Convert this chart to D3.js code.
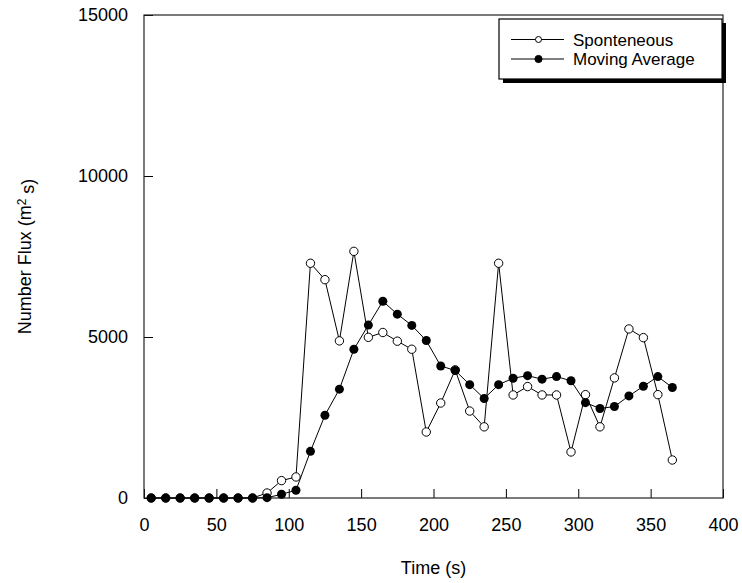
<!DOCTYPE html>
<html>
<head>
<meta charset="utf-8">
<script src="https://cdn.jsdelivr.net/npm/d3@7"></script>
<style>
  body { margin: 0; background: #fff; }
  svg { display: block; font-family: "Liberation Sans", Arial, sans-serif; }
</style>
</head>
<body>
<div id="chart"></div>
<script>
// time (s) of each sample
const times = [5, 15, 25, 35, 45, 55, 65, 75, 85, 95, 105, 115, 125, 135, 145, 155, 165, 175, 185,
  195, 205, 215, 225, 235, 245, 255, 265, 275, 285, 295, 305, 315, 325, 335, 345, 355, 365];

const sponteneous = [0, 0, 0, 0, 0, 0, 0, 0, 155, 540, 653, 7290, 6780, 4880, 7660, 4990, 5140, 4870, 4620,
  2050, 2950, 3980, 2700, 2210, 7290, 3200, 3460, 3200, 3200, 1430, 3210, 2210, 3730, 5250, 4980, 3210, 1180];

const movingAverage = [0, 0, 0, 0, 0, 0, 0, 0, 10, 115, 240, 1450, 2570, 3380, 4620, 5370, 6110, 5710, 5360,
  4890, 4100, 3960, 3520, 3090, 3520, 3720, 3800, 3690, 3770, 3640, 2960, 2780, 2840, 3170, 3470, 3770, 3430];

const xTicks = [0, 50, 100, 150, 200, 250, 300, 350, 400];
const yTicks = [0, 5000, 10000, 15000];

const seriesNames = ['Sponteneous', 'Moving Average'];

const config = {
  width: 742,
  height: 583,
  margin: [15, 19, 85, 144], // top, right, bottom, left
  fontSize: 18,
  legendFontSize: 17,
  radius: 4.2
};
config.chartWidth = config.width - config.margin[1] - config.margin[3];
config.chartHeight = config.height - config.margin[0] - config.margin[2];

const svg = d3.select('#chart')
  .append('svg')
  .attr('width', config.width)
  .attr('height', config.height);

const scaleX = d3.scaleLinear()
  .domain([0, 400])
  .range([0, config.chartWidth]);

const scaleY = d3.scaleLinear()
  .domain([0, 15000])
  .range([config.chartHeight, 0]);

const chart = svg.append('g')
  .attr('transform', `translate(${config.margin[3]}, ${config.margin[0]})`);

// axes with ticks pointing inward
const xAxis = d3.axisBottom(scaleX)
  .tickValues(xTicks)
  .tickSize(-9)
  .tickPadding(20)
  .tickFormat(d3.format('d'));

const yAxis = d3.axisLeft(scaleY)
  .tickValues(yTicks)
  .tickSize(-9)
  .tickPadding(16)
  .tickFormat(d3.format('d'));

const gx = chart.append('g')
  .attr('transform', `translate(0, ${config.chartHeight})`)
  .call(xAxis);
const gy = chart.append('g').call(yAxis);

[gx, gy].forEach(g => {
  g.select('.domain').remove();
  g.selectAll('.tick line').attr('stroke', '#000');
  g.selectAll('.tick text')
    .attr('fill', '#000')
    .style('font-size', config.fontSize + 'px')
    .style('font-family', '"Liberation Sans", Arial, sans-serif');
});
gx.selectAll('.tick text').attr('dy', '0.71em');

// plot frame
chart.append('rect')
  .attr('width', config.chartWidth)
  .attr('height', config.chartHeight)
  .attr('fill', 'none')
  .attr('stroke', '#222')
  .attr('stroke-width', 1.2);

const line = d3.line()
  .x((d, i) => scaleX(times[i]))
  .y(d => scaleY(d));

// spontaneous series (open circles) first, moving average on top
chart.append('path')
  .datum(sponteneous)
  .attr('d', line)
  .attr('fill', 'none')
  .attr('stroke', '#000')
  .attr('stroke-width', 1);

chart.selectAll('.open-pt')
  .data(sponteneous)
  .enter()
  .append('circle')
  .attr('class', 'open-pt')
  .attr('cx', (d, i) => scaleX(times[i]))
  .attr('cy', d => scaleY(d))
  .attr('r', config.radius)
  .attr('fill', '#fff')
  .attr('stroke', '#000')
  .attr('stroke-width', 1);

chart.append('path')
  .datum(movingAverage)
  .attr('d', line)
  .attr('fill', 'none')
  .attr('stroke', '#000')
  .attr('stroke-width', 1);

chart.selectAll('.filled-pt')
  .data(movingAverage)
  .enter()
  .append('circle')
  .attr('class', 'filled-pt')
  .attr('cx', (d, i) => scaleX(times[i]))
  .attr('cy', d => scaleY(d))
  .attr('r', config.radius + 0.3)
  .attr('fill', '#000');

// legend with drop shadow
const legend = svg.append('g').attr('transform', 'translate(499, 19)');
const lw = 223, lh = 60;
legend.append('rect')
  .attr('x', 4).attr('y', 4)
  .attr('width', lw).attr('height', lh)
  .attr('fill', '#000');
legend.append('rect')
  .attr('width', lw).attr('height', lh)
  .attr('fill', '#fff')
  .attr('stroke', '#000')
  .attr('stroke-width', 1.2);

seriesNames.forEach((name, i) => {
  const y = 20.5 + i * 19.5;
  const row = legend.append('g').attr('transform', `translate(0, ${y})`);
  row.append('line')
    .attr('x1', 12).attr('x2', 65)
    .attr('stroke', '#000').attr('stroke-width', 1);
  row.append('circle')
    .attr('cx', 39.5)
    .attr('r', i === 0 ? 3 : 3.6)
    .attr('fill', i === 0 ? '#fff' : '#000')
    .attr('stroke', '#000');
  row.append('text')
    .attr('x', 74)
    .attr('dy', '0.36em')
    .style('font-size', config.legendFontSize + 'px')
    .text(name);
});

// axis titles
svg.append('text')
  .attr('x', config.margin[3] + config.chartWidth / 2)
  .attr('y', 574)
  .attr('text-anchor', 'middle')
  .style('font-size', config.fontSize + 'px')
  .text('Time (s)');

const yTitle = svg.append('text')
  .attr('transform', `translate(31, ${config.margin[0] + config.chartHeight / 2}) rotate(-90)`)
  .attr('text-anchor', 'middle')
  .style('font-size', config.fontSize + 'px');
yTitle.append('tspan').text('Number Flux (m');
yTitle.append('tspan').attr('dy', '-0.45em').style('font-size', '12px').text('2');
yTitle.append('tspan').attr('dy', '0.45em').text(' s)');
</script>
</body>
</html>
